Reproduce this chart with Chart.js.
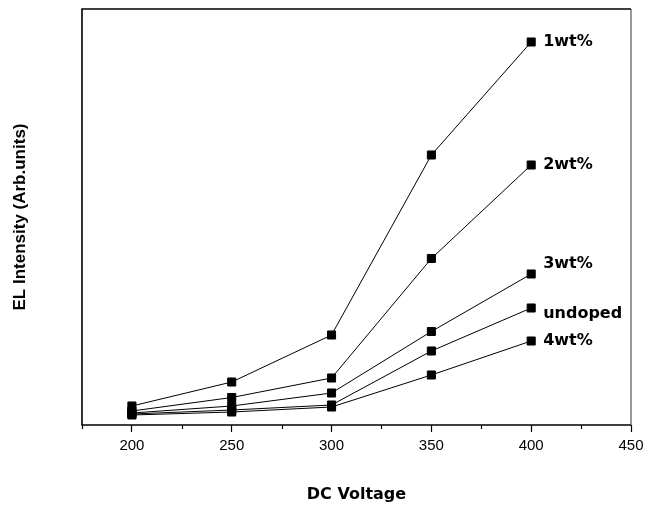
<!DOCTYPE html>
<html>
<head>
<meta charset="utf-8">
<script src="https://cdn.jsdelivr.net/npm/chart.js@4/dist/chart.umd.min.js"></script>
<style>
  html, body { margin: 0; padding: 0; background: #fff; }
  #wadah { width: 646px; height: 509px; }
</style>
</head>
<body>
<div id="wadah"><canvas id="grafik_el"></canvas></div>
<script>
// Tegangan DC (sumbu x)
var tegangan = [200, 250, 300, 350, 400];
var label_tick = [200, 250, 300, 350, 400, 450];
var tick_minor = [175, 225, 275, 325, 375, 425];

// Nama seri dan intensitas EL (satuan sembarang)
var nama_seri = ["1wt%", "2wt%", "3wt%", "undoped", "4wt%"];
var seri_1wt = [19, 43, 90, 270, 383];
var seri_2wt = [14, 27.5, 47, 166.5, 260];
var seri_3wt = [12, 19, 32, 93.5, 151];
var seri_undoped = [11, 15, 20, 74, 117];
var seri_4wt = [10, 13, 18, 50, 84];
var semua_seri = [seri_1wt, seri_2wt, seri_3wt, seri_undoped, seri_4wt];

// geser vertikal label nama di ujung garis
var geser_label = [0, 0, -10, 6, 0];

const datasets = semua_seri.map(function (nilai, i) {
  return {
    label: nama_seri[i],
    data: nilai.map(function (y, j) {
      return { x: tegangan[j], y: y };
    }),
    borderColor: "#000",
    borderWidth: 1,
    backgroundColor: "#000",
    pointStyle: "rect",
    pointRadius: 5.7,
    pointBorderWidth: 1,
    pointBackgroundColor: "#000",
    pointBorderColor: "#000",
    tension: 0,
  };
});

// Bingkai, tick minor dan nama seri
const pluginTambahan = {
  id: "tambahan",
  afterDraw: function (chart) {
    const ctx = chart.ctx;
    const area = chart.chartArea;
    const sx = chart.scales.x;
    ctx.save();
    ctx.strokeStyle = "#000";
    ctx.lineWidth = 1.6;
    ctx.beginPath();
    ctx.moveTo(area.right, area.top);
    ctx.lineTo(area.left, area.top);
    ctx.lineTo(area.left, area.bottom);
    ctx.lineTo(area.right, area.bottom);
    ctx.stroke();
    ctx.lineWidth = 1;
    ctx.strokeStyle = "#333";
    ctx.beginPath();
    ctx.moveTo(area.right, area.top);
    ctx.lineTo(area.right, area.bottom);
    ctx.stroke();

    ctx.strokeStyle = "#000";
    ctx.lineWidth = 1.2;
    tick_minor.forEach(function (v) {
      const px = Math.round(sx.getPixelForValue(v)) + 0.5;
      ctx.beginPath();
      ctx.moveTo(px, area.bottom);
      ctx.lineTo(px, area.bottom + 4);
      ctx.stroke();
    });

    ctx.fillStyle = "#000";
    ctx.font = "bold 16px 'DejaVu Sans'";
    ctx.textAlign = "left";
    ctx.textBaseline = "middle";
    chart.data.datasets.forEach(function (ds, i) {
      const meta = chart.getDatasetMeta(i);
      const titik = meta.data[meta.data.length - 1];
      ctx.fillText(ds.label, titik.x + 12, titik.y + geser_label[i]);
    });
    ctx.restore();
  },
};

const config = {
  type: "line",
  data: { datasets: datasets },
  options: {
    responsive: true,
    maintainAspectRatio: false,
    animation: false,
    layout: { padding: { top: 9, right: 15, bottom: 0, left: 0 } },
    plugins: {
      legend: { display: false },
      tooltip: { enabled: false },
    },
    scales: {
      x: {
        type: "linear",
        min: 175,
        max: 450,
        afterBuildTicks: function (scale) {
          scale.ticks = label_tick.map(function (v) {
            return { value: v };
          });
        },
        afterFit: function (scale) {
          scale.height = 84;
          scale.paddingLeft = 0;
          scale.paddingRight = 0;
        },
        grid: {
          drawOnChartArea: false,
          drawTicks: true,
          tickLength: 7,
          tickWidth: 1.2,
          tickColor: "#000",
        },
        border: { display: false },
        ticks: {
          autoSkip: false,
          maxRotation: 0,
          padding: 5,
          color: "#000",
          font: { family: "'Liberation Sans', Arial", size: 15 },
        },
        title: {
          display: true,
          text: "DC Voltage",
          color: "#000",
          font: { family: "'DejaVu Sans'", size: 16, weight: "bold" },
          padding: { top: 0, bottom: 5 },
        },
      },
      y: {
        min: 0,
        max: 416,
        afterFit: function (scale) {
          scale.width = 82;
        },
        grid: { display: false },
        border: { display: false },
        ticks: { display: false },
        title: {
          display: true,
          text: "EL Intensity (Arb.units)",
          color: "#000",
          font: { family: "'Liberation Sans', Arial", size: 17, weight: "bold" },
          padding: { top: 10, bottom: 0 },
        },
      },
    },
  },
  plugins: [pluginTambahan],
};

const grafik = document.getElementById("grafik_el").getContext("2d");
const grafik_el = new Chart(grafik, config);
</script>
</body>
</html>
